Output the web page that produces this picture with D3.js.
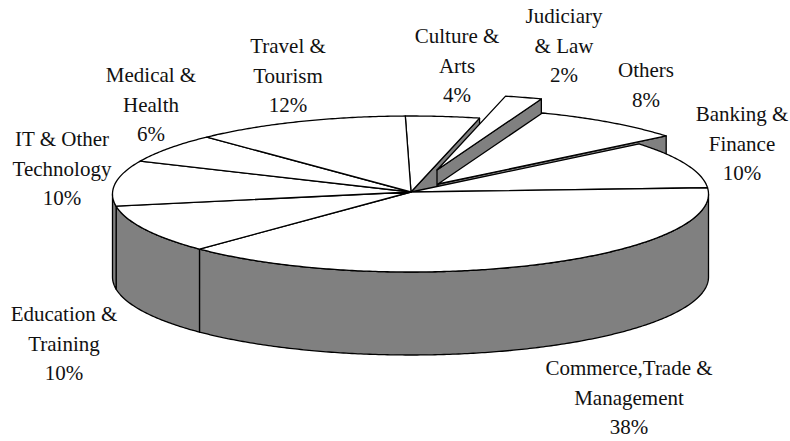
<!DOCTYPE html>
<html lang="en">

<head>
    <script src="https://d3js.org/d3.v7.min.js"></script>
    <style>
        body { margin: 0; background: white; }
        text { font-family: "Liberation Serif", serif; font-size: 21px; fill: #111; text-anchor: middle; }
    </style>
</head>

<body>
    <script>
        // clockwise from the slice that starts near 12 o'clock
        const categories = [
            ["Culture &", "Arts"],
            ["Judiciary", "& Law"],
            ["Others"],
            ["Banking &", "Finance"],
            ["Commerce,Trade &", "Management"],
            ["Education &", "Training"],
            ["IT & Other", "Technology"],
            ["Medical &", "Health"],
            ["Travel &", "Tourism"]
        ];
        const values = [4, 2, 8.2, 9.8, 38.8, 10, 9.4, 6.1, 11.7]; // as drawn, the labels are rounded
        const percentLabels = ["4%", "2%", "8%", "10%", "38%", "10%", "10%", "6%", "12%"];

        const width = 790;
        const height = 441;
        const cx = 410.5;
        const cy = 194;
        const rx = 298;
        const ry = 78;
        const depth = 83;
        const apex = [411, 192];
        const startAngle = -1 * Math.PI / 180;

        // pulled out slices, offset in px
        const explode = { 1: [26, -22], 2: [27, -8] };
        // label centre x and first baseline
        const labelPos = [
            [457, 43], [564, 23], [646, 77], [742, 121], [629, 375],
            [64, 321], [62, 146], [151, 82], [288, 53]
        ];
        const lineGap = 29.5;

        const svg = d3.select("body").append("svg")
            .attr("width", width)
            .attr("height", height);

        const x = d3.scaleLinear().domain([-1, 1]).range([cx - rx, cx + rx]);
        const y = d3.scaleLinear().domain([-1, 1]).range([cy + ry, cy - ry]);

        const slices = d3.pie().sort(null)
            .startAngle(startAngle)
            .endAngle(startAngle + 2 * Math.PI)(values);

        const rimPoint = a => [x(Math.sin(a)), y(Math.cos(a))];
        const line = d3.line();

        function arcPoints(a0, a1) {
            const n = Math.max(2, Math.ceil((a1 - a0) / 0.01));
            return d3.range(n + 1).map(i => rimPoint(a0 + (a1 - a0) * i / n));
        }

        const drawShape = (pts, fill, off) => svg.append("path")
            .attr("d", line(pts) + "Z")
            .attr("transform", "translate(" + off[0] + "," + off[1] + ")")
            .attr("fill", fill)
            .attr("stroke", "black")
            .attr("stroke-width", 1.3)
            .attr("stroke-linejoin", "round");

        // walls first, back to front
        slices.forEach((s, i) => {
            const off = explode[i] || [0, 0];
            const edge = rimPoint(s.endAngle);

            // culture and the two pulled out slices show their cut face
            if (i <= 2) {
                drawShape([apex, edge, [edge[0], edge[1] + depth], [apex[0], apex[1] + depth]], "#808080", off);
                drawShape([apex].concat(arcPoints(s.startAngle, s.endAngle)), "white", off);
            }

            // outer wall, only the front half of the pie
            const a0 = Math.max(s.startAngle, Math.PI / 2);
            const a1 = Math.min(s.endAngle, 3 * Math.PI / 2);
            if (a1 > a0) {
                const rim = arcPoints(a0, a1);
                const low = rim.map(p => [p[0], p[1] + depth]).reverse();
                drawShape(rim.concat(low), "#808080", off);
            }
        });

        slices.forEach((s, i) => {
            if (i <= 2) return;
            drawShape([apex].concat(arcPoints(s.startAngle, s.endAngle)), "white", [0, 0]);
        });

        // labels
        categories.forEach((lines, i) => {
            const t = svg.append("text")
                .attr("transform", "translate(" + labelPos[i][0] + "," + labelPos[i][1] + ")");
            lines.concat(percentLabels[i]).forEach((l, j) => {
                t.append("tspan").attr("x", 0).attr("y", j * lineGap).text(l);
            });
        });
    </script>
</body>

</html>
